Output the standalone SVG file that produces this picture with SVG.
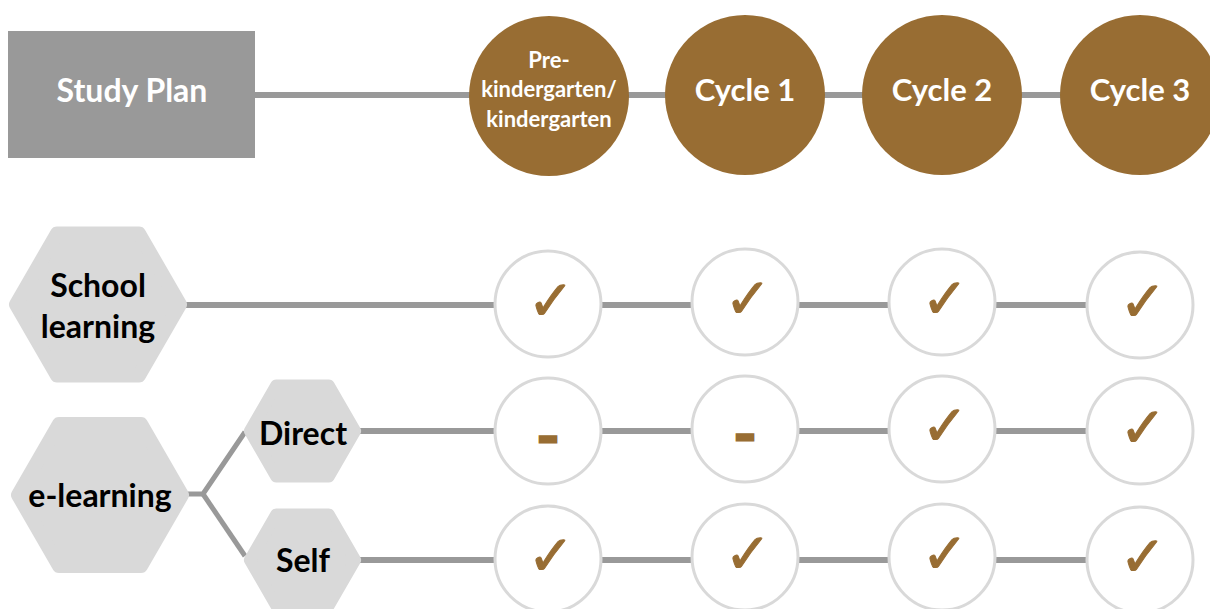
<svg xmlns="http://www.w3.org/2000/svg" width="1210" height="609" viewBox="0 0 1210 609">
<style>
.bg{fill:#ffffff}
.line{stroke:#999999;stroke-width:6;fill:none}
.branch{stroke:#999999;stroke-width:5;fill:none}
.brown{fill:#986d33}
.ring{fill:#ffffff;stroke:#d9d9d9;stroke-width:3}
.hex{fill:#d9d9d9;stroke:#d9d9d9;stroke-linejoin:round}
.big{stroke-width:14}
.small{stroke-width:12}
.wt{fill:#ffffff;font-family:Lato,"Liberation Sans",sans-serif;font-weight:700;text-anchor:middle}
.bt{fill:#000000;font-family:Lato,"Liberation Sans",sans-serif;font-weight:700;text-anchor:middle;font-size:32px}
.chk{fill:#986d33;stroke:#986d33;stroke-width:1;font-family:"DejaVu Sans",sans-serif;font-size:56px;text-anchor:middle}
.dash{fill:#986d33;stroke:#986d33;stroke-width:3;font-family:"DejaVu Sans",sans-serif;font-weight:700;font-size:40px;text-anchor:middle}
</style>
<rect class="bg" x="0" y="0" width="1210" height="609"/>
<g id="connectors">
<line class="line" x1="255" y1="95" x2="1140" y2="95"/>
<line class="line" x1="185" y1="305" x2="1140" y2="305"/>
<line class="line" x1="355" y1="431" x2="1140" y2="431"/>
<line class="line" x1="355" y1="560" x2="1140" y2="560"/>
<polyline class="branch" points="186,494 203,494 245,432"/>
<polyline class="branch" points="203,494 245,556"/>
</g>
<g id="study-plan">
<rect x="8" y="31" width="247" height="127" fill="#999999"/>
<text class="wt" x="132" y="102" font-size="32">Study Plan</text>
</g>
<g id="prek">
<circle class="brown" cx="549" cy="96" r="80"/>
<text class="wt" x="549" y="68" font-size="22">Pre-</text>
<text class="wt" x="549" y="97" font-size="22">kindergarten/</text>
<text class="wt" x="549" y="127" font-size="22">kindergarten</text>
</g>
<g id="cycle1">
<circle class="brown" cx="745" cy="95" r="80"/>
<text class="wt" x="745" y="101" font-size="31">Cycle 1</text>
</g>
<g id="cycle2">
<circle class="brown" cx="942" cy="95" r="80"/>
<text class="wt" x="942" y="101" font-size="31">Cycle 2</text>
</g>
<g id="cycle3">
<circle class="brown" cx="1140" cy="95" r="80"/>
<text class="wt" x="1140" y="101" font-size="31">Cycle 3</text>
</g>
<g id="school-learning">
<polygon class="hex big" points="16,304.5 57,233.5 139,233.5 180,304.5 139,375.5 57,375.5"/>
<text class="bt" x="98" y="297">School</text>
<text class="bt" x="98" y="338">learning</text>
</g>
<g id="e-learning">
<polygon class="hex big" points="18,495 59,424 141,424 182,495 141,566 59,566"/>
<text class="bt" x="100" y="507">e-learning</text>
</g>
<g id="direct">
<polygon class="hex small" points="249.9,431 276.2,385.5 328.8,385.5 355.1,431 328.8,476.5 276.2,476.5"/>
<text class="bt" x="303" y="445">Direct</text>
</g>
<g id="self">
<polygon class="hex small" points="249.9,560 276.2,514.5 328.8,514.5 355.1,560 328.8,605.5 276.2,605.5"/>
<text class="bt" x="303" y="572">Self</text>
</g>
<g id="row-school">
<circle class="ring" cx="548" cy="304" r="53"/><text class="chk" x="551" y="320">✓</text>
<circle class="ring" cx="745" cy="302" r="53"/><text class="chk" x="748" y="318">✓</text>
<circle class="ring" cx="942" cy="302" r="53"/><text class="chk" x="945" y="318">✓</text>
<circle class="ring" cx="1140" cy="305" r="53"/><text class="chk" x="1143" y="321">✓</text>
</g>
<g id="row-direct">
<circle class="ring" cx="548" cy="431" r="53"/><text class="dash" x="548" y="451">–</text>
<circle class="ring" cx="745" cy="429" r="53"/><text class="dash" x="745" y="449">–</text>
<circle class="ring" cx="942" cy="429" r="53"/><text class="chk" x="945" y="445">✓</text>
<circle class="ring" cx="1140" cy="431" r="53"/><text class="chk" x="1143" y="447">✓</text>
</g>
<g id="row-self">
<circle class="ring" cx="548" cy="559" r="53"/><text class="chk" x="551" y="575">✓</text>
<circle class="ring" cx="745" cy="557" r="53"/><text class="chk" x="748" y="573">✓</text>
<circle class="ring" cx="942" cy="557" r="53"/><text class="chk" x="945" y="573">✓</text>
<circle class="ring" cx="1140" cy="560" r="53"/><text class="chk" x="1143" y="576">✓</text>
</g>
</svg>
